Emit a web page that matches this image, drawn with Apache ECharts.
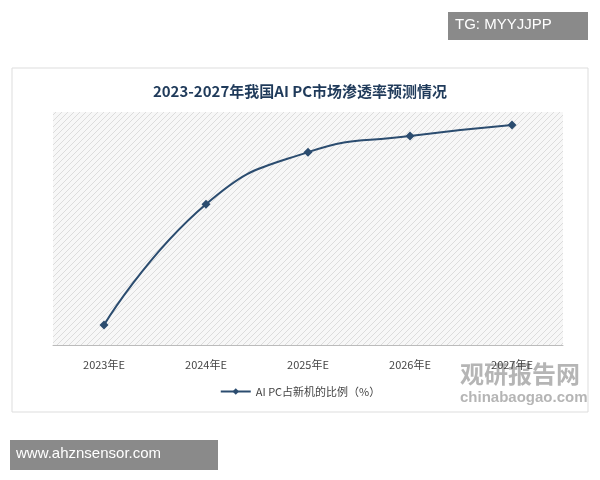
<!DOCTYPE html>
<html><head><meta charset="utf-8">
<script src="https://cdn.jsdelivr.net/npm/echarts@6/dist/echarts.min.js"></script>
<style>body{margin:0;background:#fff}#c{width:600px;height:480px}</style></head>
<body><div id="c"></div>
<script>
const categories = ['2023年E','2024年E','2025年E','2026年E','2027年E'];
const values = [7.7, 54.4, 74.5, 80.7, 85];
const seriesName = 'AI PC占新机的比例（%）';

const pc = document.createElement('canvas');
pc.width = 6; pc.height = 6;
const g = pc.getContext('2d');
g.fillStyle = '#f7f7f7'; g.fillRect(0,0,6,6);
g.strokeStyle = '#dcdcdc'; g.lineWidth = 1;
g.beginPath(); g.moveTo(0,6); g.lineTo(6,0); g.moveTo(-1,1); g.lineTo(1,-1); g.moveTo(5,7); g.lineTo(7,5); g.stroke();

const chart = echarts.init(document.getElementById('c'));
chart.setOption({
  backgroundColor: '#fff',
  title: { text: '2023-2027年我国AI PC市场渗透率预测情况', left: 'center', top: 79,
    textStyle: { fontSize: 15, fontWeight: 'bold', color: '#1f3a5a', fontFamily: 'Noto Sans CJK SC' } },
  grid: { left: 53, right: 37, top: 112, bottom: 135, show: true, borderWidth: 0,
    backgroundColor: { image: pc, repeat: 'repeat' } },
  legend: { bottom: 78, left: 'center', data: [seriesName],
    itemWidth: 30, itemHeight: 8,
    textStyle: { fontSize: 11, color: '#444', fontFamily: 'Noto Sans CJK SC' } },
  xAxis: { type: 'category', data: categories, boundaryGap: true,
    axisLine: { lineStyle: { color: '#bbb' } }, axisTick: { show: false },
    axisLabel: { color: '#444', fontSize: 11, margin: 14, fontFamily: 'Noto Sans CJK SC' } },
  yAxis: { type: 'value', min: 0, max: 90, show: false, splitLine: { show: false } },
  series: [{ name: seriesName, type: 'line', data: values, smooth: 0.5,
    symbol: 'diamond', symbolSize: 9, lineStyle: { color: '#2b4c6f', width: 2 },
    itemStyle: { color: '#2b4c6f' } }],
  graphic: [
    { type: 'rect', shape: { x: 12, y: 68, width: 576, height: 344 }, style: { fill: 'none', stroke: '#ddd', lineWidth: 1 }, z: -1 },
    { type: 'rect', shape: { x: 448, y: 12, width: 140, height: 28 }, style: { fill: '#8a8a8a' } },
    { type: 'text', left: 455, top: 17, style: { text: 'TG: MYYJJPP', fill: '#fff', font: '15px "Liberation Sans"' } },
    { type: 'rect', shape: { x: 10, y: 440, width: 208, height: 30 }, style: { fill: '#8a8a8a' } },
    { type: 'text', left: 16, top: 446, style: { text: 'www.ahznsensor.com', fill: '#fff', font: '15px "Liberation Sans"' } },
    { type: 'text', left: 460, top: 362, style: { text: '观研报告网', fill: 'rgba(120,120,120,0.55)', font: 'bold 24px "Noto Sans CJK SC"' } },
    { type: 'text', left: 460, top: 390, style: { text: 'chinabaogao.com', fill: 'rgba(120,120,120,0.55)', font: 'bold 15px "Liberation Sans"' } }
  ]
});
</script></body></html>
